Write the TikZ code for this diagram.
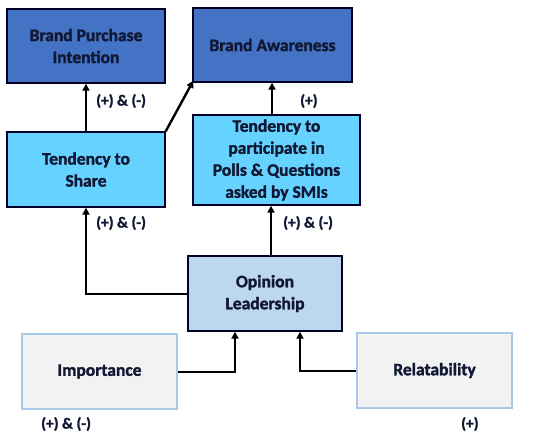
\documentclass[tikz,border=0pt]{standalone}
\usepackage{fontspec}
\setmainfont{Carlito}[BoldFeatures={FakeBold=1.6}]
\usetikzlibrary{arrows.meta}
\definecolor{dkblue}{HTML}{4472C4}
\definecolor{cyanbox}{HTML}{66D2FF}
\definecolor{olbox}{HTML}{BDD7EE}
\definecolor{graybox}{HTML}{F2F2F2}
\definecolor{grayedge}{HTML}{A9C8EA}
\definecolor{txt}{HTML}{111833}
\begin{document}
\begin{tikzpicture}[x=1pt,y=-1pt,
  box/.style={draw=black!85!blue, line width=1.4pt, align=center, inner sep=0pt,
    font=\fontsize{17.5}{22}\selectfont\bfseries, text=txt},
  darkbox/.style={box, fill=dkblue},
  cyanstyle/.style={box, fill=cyanbox},
  olstyle/.style={box, fill=olbox},
  graystyle/.style={box, fill=graybox, draw=grayedge, line width=1.2pt},
  conn/.style={line width=2.4pt, -{Triangle[length=7pt,width=7pt]}},
  lbl/.style={font=\fontsize{15.5}{18}\selectfont\bfseries, text=txt, inner sep=0pt}]
\useasboundingbox (0,0) rectangle (535,439);
\fill[white] (0,0) rectangle (535,439);
\node[darkbox, minimum width=158pt, minimum height=74pt] (bpi) at (86,46) {Brand Purchase\\Intention};
\node[darkbox, minimum width=159pt, minimum height=74pt] (ba) at (272.5,45) {Brand Awareness};
\node[cyanstyle, minimum width=158pt, minimum height=75pt] (share) at (86,169.5) {Tendency to\\Share};
\node[cyanstyle, minimum width=167pt, minimum height=90pt] (polls) at (276.5,160) {Tendency to\\participate in\\Polls \& Questions\\asked by SMIs};
\node[olstyle, minimum width=154pt, minimum height=75pt] (ol) at (265,293.5) {Opinion\\Leadership};
\node[graystyle, minimum width=155pt, minimum height=75pt] (imp) at (99.5,371.5) {Importance};
\node[graystyle, minimum width=155pt, minimum height=75pt] (rel) at (434.5,370.5) {Relatability};
% connectors
\draw[conn] (share.north -| 86,0) -- (bpi.south -| 86,0);
\draw[conn] (share.north east) -- ([xshift=1pt,yshift=2pt]ba.south west);
\draw[conn] (polls.north -| 272,0) -- (ba.south -| 272,0);
\draw[conn] (ol.north -| 271,0) -- (polls.south -| 271,0);
\coordinate (c1) at (86,294);
\draw[conn] (ol.west |- c1) -- (c1) -- (share.south -| c1);
\coordinate (c2) at (235,372);
\draw[conn] (imp.east |- c2) -- (c2) -- (ol.south -| c2);
\coordinate (c3) at (300,371);
\draw[conn] (rel.west |- c3) -- (c3) -- (ol.south -| c3);
% labels
\node[lbl, anchor=west] (l1) at (96,101) {(+) \& (-)};
\node[lbl, anchor=west] (l2) at (300,101) {(+)};
\node[lbl, anchor=west] (l3) at (96,223) {(+) \& (-)};
\node[lbl, anchor=west] (l4) at (283,223) {(+) \& (-)};
\node[lbl, anchor=west] (l5) at (41,424) {(+) \& (-)};
\node[lbl, anchor=west] (l6) at (461,424) {(+)};
\end{tikzpicture}
\end{document}
